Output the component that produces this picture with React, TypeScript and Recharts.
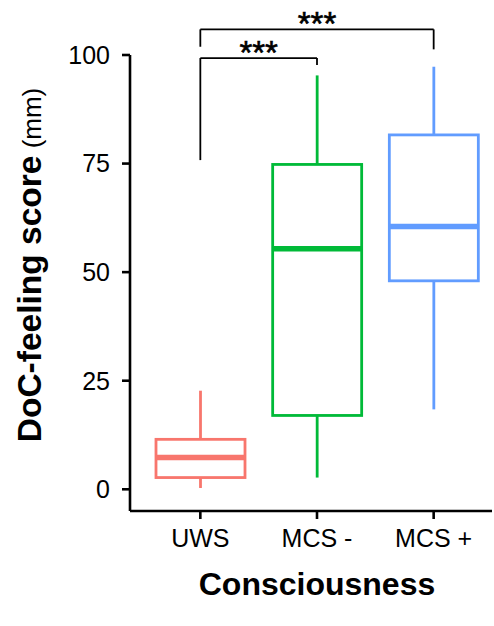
import React from 'react';
import { ComposedChart, Bar, XAxis, YAxis, ReferenceLine } from 'recharts';

const categories = ['UWS', 'MCS -', 'MCS +'];
const whiskerLow = [0.3, 2.7, 18.4];
const q1 = [2.7, 17.0, 48.0];
const median = [7.3, 55.4, 60.5];
const q3 = [11.5, 74.8, 81.6];
const whiskerHigh = [22.7, 95.3, 97.3];
const colors = ['#F8766D', '#00BA38', '#619CFF'];
const yTicks = [0, 25, 50, 75, 100];

const bracketFrom = ['UWS', 'UWS'];
const bracketTo = ['MCS -', 'MCS +'];
const bracketLevel = [99.3, 105.9];
const bracketLeftEnd = [75.8, 101.9];
const bracketRightEnd = [97.7, 101.3];
const bracketLabel = ['***', '***'];

const data = categories.map((c, i) => ({
  name: c,
  low: whiskerLow[i],
  q1: q1[i],
  median: median[i],
  q3: q3[i],
  high: whiskerHigh[i],
  color: colors[i],
  range: [whiskerLow[i], whiskerHigh[i]],
}));

const FONT = '"Liberation Sans", Arial, sans-serif';

const BoxShape = (props: any) => {
  const { x, y, width, height, payload } = props;
  const top = Math.min(y, y + height);
  const h = Math.abs(height);
  const k = h / (payload.high - payload.low);
  const py = (v: number) => top + (payload.high - v) * k;
  const cx = x + width / 2;
  const c = payload.color;
  return (
    <g>
      <line x1={cx} x2={cx} y1={py(payload.high)} y2={py(payload.q3)} stroke={c} strokeWidth={2.8} />
      <line x1={cx} x2={cx} y1={py(payload.q1)} y2={py(payload.low)} stroke={c} strokeWidth={2.8} />
      <rect x={x} y={py(payload.q3)} width={width} height={py(payload.q1) - py(payload.q3)} fill="#fff" stroke={c} strokeWidth={2.8} />
      <line x1={x} x2={x + width} y1={py(payload.median)} y2={py(payload.median)} stroke={c} strokeWidth={5.5} />
    </g>
  );
};

const starsLabel = (text: string) => (p: any) => {
  const vb = p.viewBox || {};
  return (
    <text x={vb.x + vb.width / 2} y={vb.y + 6} textAnchor="middle" fontFamily={FONT} fontSize={33} fill="#000" stroke="#000" strokeWidth={0.6}>
      {text}
    </text>
  );
};

const YTitle = (p: any) => {
  const vb = p.viewBox || {};
  const cx = 41;
  const cy = vb.y + vb.height / 2 - 18;
  return (
    <text x={cx} y={cy} transform={`rotate(-90, ${cx}, ${cy})`} textAnchor="middle" fontFamily={FONT} fill="#000">
      <tspan fontWeight="bold" fontSize={33.5}>DoC-feeling score</tspan>
      <tspan fontSize={26}> (mm)</tspan>
    </text>
  );
};

const XTitle = (p: any) => {
  const vb = p.viewBox || {};
  return (
    <text x={vb.x + vb.width / 2 + 6} y={595} textAnchor="middle" fontFamily={FONT} fontWeight="bold" fontSize={32} fill="#000">
      Consciousness
    </text>
  );
};

function XTitleLabel(p: any) {
  return <XTitle {...p} />;
}
function YTitleLabel(p: any) {
  return <YTitle {...p} />;
}

export default function App() {
  return (
    <div style={{ position: 'absolute', left: 0, top: 0, width: 494, height: 626, background: '#fff' }}>
      <ComposedChart width={494} height={626} data={data} margin={{ top: 55, right: 2, left: 70, bottom: 75 }}>
        <XAxis
          dataKey="name"
          type="category"
          height={40}
          padding={{ left: 12, right: 0 }}
          axisLine={{ stroke: '#000', strokeWidth: 2.6 }}
          tickLine={{ stroke: '#000', strokeWidth: 2.6 }}
          tickSize={8}
          tickMargin={10}
          tick={{ fill: '#000', fontSize: 25, fontFamily: FONT }}
          label={<XTitleLabel />}
        />
        <YAxis
          type="number"
          domain={[-5, 100]}
          ticks={yTicks}
          allowDataOverflow
          width={60}
          axisLine={{ stroke: '#000', strokeWidth: 2.6 }}
          tickLine={{ stroke: '#000', strokeWidth: 2.6 }}
          tickSize={8}
          tickMargin={12}
          tick={{ fill: '#000', fontSize: 25, fontFamily: FONT }}
          label={<YTitleLabel />}
        />
        <Bar dataKey="range" shape={BoxShape} barSize={89} isAnimationActive={false} />
        {bracketFrom.map((f, i) => (
          <ReferenceLine
            key={`l${i}`}
            ifOverflow="visible"
            segment={[{ x: f, y: bracketLeftEnd[i] }, { x: f, y: bracketLevel[i] }]}
            stroke="#000"
            strokeWidth={1.8}
          />
        ))}
        {bracketFrom.map((f, i) => (
          <ReferenceLine
            key={`h${i}`}
            ifOverflow="visible"
            segment={[{ x: f, y: bracketLevel[i] }, { x: bracketTo[i], y: bracketLevel[i] }]}
            stroke="#000"
            strokeWidth={1.8}
            label={starsLabel(bracketLabel[i])}
          />
        ))}
        {bracketTo.map((t, i) => (
          <ReferenceLine
            key={`r${i}`}
            ifOverflow="visible"
            segment={[{ x: t, y: bracketLevel[i] }, { x: t, y: bracketRightEnd[i] }]}
            stroke="#000"
            strokeWidth={1.8}
          />
        ))}
      </ComposedChart>
    </div>
  );
}
